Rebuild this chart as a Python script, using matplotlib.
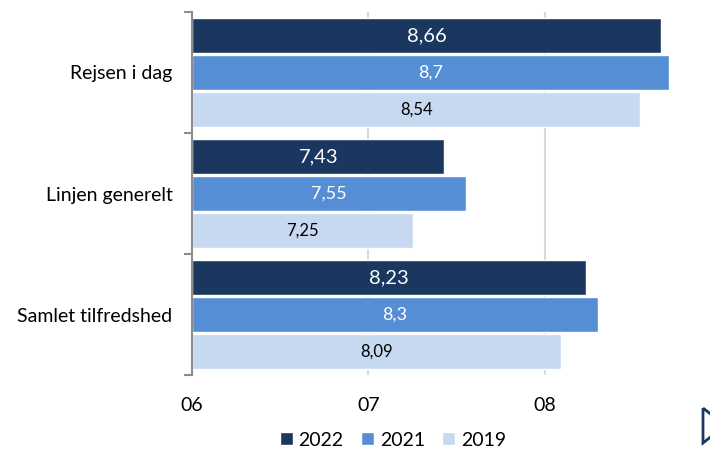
import matplotlib
matplotlib.use("Agg")
import matplotlib.pyplot as plt
import numpy as np
from matplotlib.patches import Polygon

plt.rcParams['font.family'] = ['Lato', 'DejaVu Sans']

# Data
categories = ["Rejsen i dag", "Linjen generelt", "Samlet tilfredshed"]
years = ["2022", "2021", "2019"]
values = {
    "2022": [8.66, 7.43, 8.23],
    "2021": [8.70, 7.55, 8.30],
    "2019": [8.54, 7.25, 8.09],
}
x_ticks = [6, 7, 8]
x_tick_labels = ["06", "07", "08"]

colors = {"2022": "#1a3760", "2021": "#558ed5", "2019": "#c6d9f1"}
label_colors = {"2022": "white", "2021": "white", "2019": "black"}
label_sizes = {"2022": 14.5, "2021": 13, "2019": 12}

fig = plt.figure(figsize=(7.1, 4.5), dpi=100)
# left edge at 192px, top 12px, bottom 375px; x-range runs past the right edge
ax = fig.add_axes([192 / 710, 75 / 450, 529.5 / 710, 363 / 450])

base = 6
y_centers = np.arange(len(categories))
offsets = {"2022": -0.305, "2021": 0.0, "2019": 0.305}
bar_h = 0.29

for yr in years:
    vals = np.array(values[yr])
    ys = y_centers + offsets[yr]
    ax.barh(ys, vals - base, left=base, height=bar_h, color=colors[yr],
            edgecolor="white", linewidth=1.0, label=yr, zorder=3)
    for y, v in zip(ys, vals):
        txt = f"{v:g}".replace(".", ",")
        ax.text(base + (v - base) / 2, y, txt, ha="center", va="center",
                color=label_colors[yr], fontsize=label_sizes[yr], zorder=4)

ax.set_xlim(6, 9)
ax.set_ylim(len(categories) - 0.5, -0.5)

ax.set_xticks(x_ticks)
ax.set_xticklabels(x_tick_labels, fontsize=14)
ax.tick_params(axis="x", length=0, pad=16)

ax.set_yticks(y_centers)
ax.set_yticklabels(categories, fontsize=14)
ax.set_yticks(np.arange(-0.5, len(categories)), minor=True)
ax.tick_params(axis="y", which="major", length=0, pad=14)
ax.tick_params(axis="y", which="minor", length=6, width=1.5, color="#8c8c8c")

ax.grid(axis="x", color="#d9d9d9", linewidth=1.5, zorder=0)
for s in ["top", "right", "bottom"]:
    ax.spines[s].set_visible(False)
ax.spines["left"].set_color("#8c8c8c")
ax.spines["left"].set_linewidth(1.5)
ax.spines["left"].set_zorder(5)

handles, labels = ax.get_legend_handles_labels()
fig.legend(handles, labels, loc="center", bbox_to_anchor=(393 / 710, 1 - 440 / 450),
           ncol=3, frameon=False, fontsize=14, handlelength=0.65, handleheight=0.65,
           handletextpad=0.3, columnspacing=0.9)

# partial navigation arrow at the bottom right edge
tri = Polygon([(703 / 710, 1 - 408 / 450), (703 / 710, 1 - 443 / 450), (725 / 710, 1 - 425.5 / 450)],
              closed=True, fill=False, edgecolor="#1a3760", linewidth=2,
              transform=fig.transFigure, clip_on=False)
fig.add_artist(tri)

plt.savefig("out.png", dpi=100)
